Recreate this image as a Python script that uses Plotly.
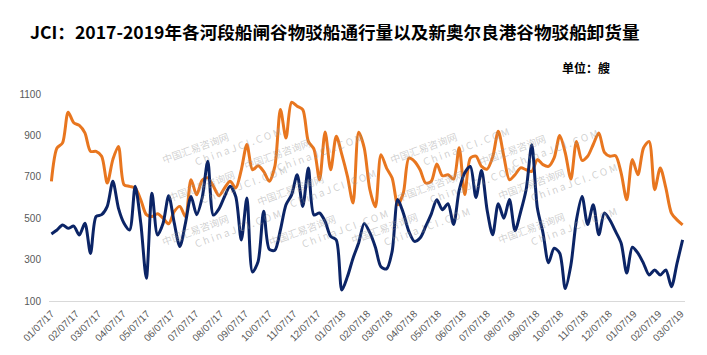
import pandas as pd
import plotly.graph_objects as go

# ---- data (weekly) ----
start_date = "2017-01-07"
n_weeks = 114

lock_transit = [  # orange series
    678, 839, 864, 1012, 961, 948, 912, 823, 823, 799,
    670, 783, 847, 662, 654, 646, 589, 517, 508, 521,
    500, 473, 533, 557, 508, 686, 613, 683, 695, 654,
    609, 646, 678, 646, 734, 856, 734, 753, 726, 678,
    750, 1025, 887, 1060, 1041, 1025, 871, 834, 686, 917,
    734, 896, 807, 702, 573, 915, 840, 640, 555, 807,
    742, 694, 565, 622, 790, 775, 734, 670, 678, 762,
    705, 710, 689, 840, 615, 790, 800, 750, 737, 796,
    920, 799, 686, 710, 743, 734, 726, 783, 759, 750,
    791, 900, 815, 689, 871, 779, 799, 856, 912, 818,
    799, 802, 718, 589, 783, 710, 839, 871, 638, 743,
    646, 525, 492, 468,
]

nola_unload = [  # dark blue series
    424, 443, 467, 451, 462, 419, 476, 330, 508, 517,
    557, 678, 549, 476, 443, 654, 476, 210, 621, 419,
    476, 609, 476, 363, 476, 605, 517, 600, 775, 515,
    545, 605, 654, 605, 395, 597, 240, 290, 533, 350,
    345, 444, 565, 613, 710, 557, 742, 516, 525, 484,
    412, 395, 153, 218, 307, 380, 475, 430, 360, 265,
    255, 340, 590, 525, 436, 388, 404, 460, 520, 589,
    541, 570, 470, 635, 720, 750, 600, 730, 540, 420,
    570, 500, 590, 440, 530, 640, 855, 549, 430, 285,
    355, 331, 160, 274, 492, 605, 470, 565, 420, 525,
    490, 436, 379, 235, 360, 331, 282, 226, 250, 226,
    250, 169, 282, 395,
]

y_ticks = [100, 300, 500, 700, 900, 1100]
title_text = "JCI：2017-2019年各河段船闸谷物驳船通行量以及新奥尔良港谷物驳船卸货量"
unit_text = "单位：艘"
watermark_cn = "中国汇易咨询网"
watermark_en = "C h i n a J C I . C O M"

dates = pd.date_range(start_date, periods=n_weeks, freq="7D")
tick_dates = pd.date_range("2017-01-01", "2019-03-01", freq="MS") + pd.Timedelta(days=6)

fig = go.Figure()

# watermarks (faint, behind data)
wm_pos = [(0.17, 0.93), (0.40, 0.90), (0.63, 0.93), (0.87, 0.92),
          (0.18, 0.57), (0.42, 0.55), (0.64, 0.57), (0.90, 0.58),
          (0.17, 0.18), (0.44, 0.18), (0.67, 0.19), (0.90, 0.19)]
for (px, py) in wm_pos:
    fig.add_annotation(x=px, y=py, xref="paper", yref="paper",
                       text=watermark_cn + "<br>　　　" + watermark_en,
                       showarrow=False, textangle=-20,
                       font=dict(family="Noto Sans CJK SC, Liberation Sans", size=10,
                                 color="rgba(150,150,150,0.45)"),
                       align="left")

fig.add_trace(go.Scatter(
    x=dates, y=lock_transit, mode="lines", name="各河段船闸谷物驳船通行量",
    line=dict(color="#E8761F", width=3, shape="spline", smoothing=0.8),
))
fig.add_trace(go.Scatter(
    x=dates, y=nola_unload, mode="lines", name="新奥尔良港谷物驳船卸货量",
    line=dict(color="#0B2466", width=3, shape="spline", smoothing=0.8),
))

# title and unit label
fig.add_annotation(x=0.0, y=1.30, xref="paper", yref="paper",
                   xanchor="left", yanchor="middle", showarrow=False,
                   text=title_text, xshift=-21,
                   font=dict(family="Noto Sans CJK SC", size=17.6, color="#000000", weight="bold"))
fig.add_annotation(x=0.885, y=1.13, xref="paper", yref="paper",
                   xanchor="right", yanchor="middle", showarrow=False,
                   text=unit_text,
                   font=dict(family="Noto Sans CJK SC", size=12, color="#000000", weight="bold"))

# the page body adds an 8px offset; the figure is sized/margined to compensate
fig.update_layout(
    width=699, height=347,
    margin=dict(l=41, r=22, t=86, b=54, autoexpand=False),
    paper_bgcolor="white", plot_bgcolor="white",
    showlegend=False,
    xaxis=dict(
        type="date",
        range=["2017-01-04", "2019-03-12"],
        tickvals=list(tick_dates),
        tickformat="%m/%d/%y",
        tickangle=-45,
        tickfont=dict(family="Liberation Sans", size=10, color="#595959"),
        showgrid=False, zeroline=False,
        showline=True, linecolor="#D9D9D9", linewidth=1,
        ticks="", ticklabelstandoff=2, automargin=False,
    ),
    yaxis=dict(
        range=[100, 1100],
        tickvals=y_ticks,
        tickfont=dict(family="Liberation Sans", size=10, color="#595959"),
        showgrid=False, zeroline=False, showline=False,
        ticks="", ticklabelstandoff=7, automargin=False,
    ),
)

fig.write_html("out.html")
